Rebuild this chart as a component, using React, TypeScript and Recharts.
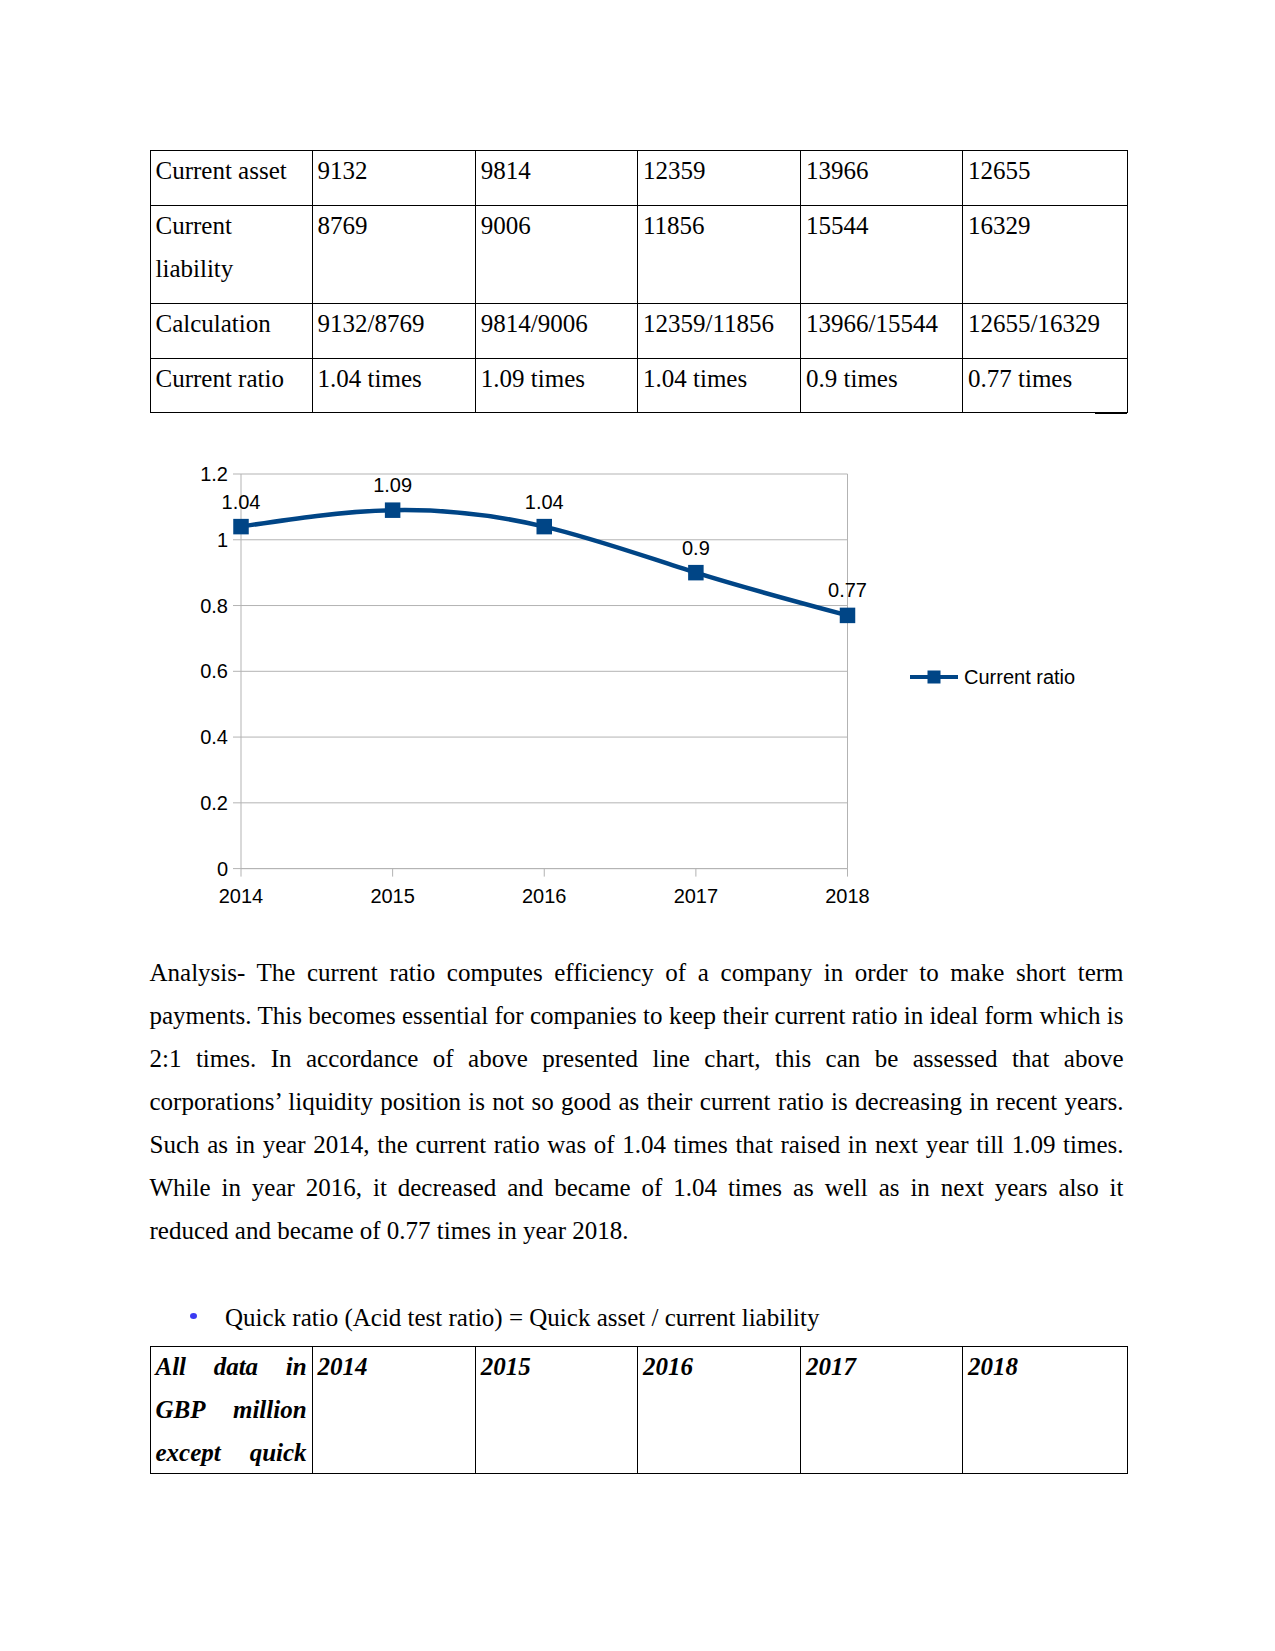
import React from 'react';
import { LineChart, Line, XAxis, YAxis, CartesianGrid, LabelList, Legend, ReferenceLine } from 'recharts';

const years = ['2014', '2015', '2016', '2017', '2018'];
const currentAsset = [9132, 9814, 12359, 13966, 12655];
const currentLiability = [8769, 9006, 11856, 15544, 16329];
const currentRatio = [1.04, 1.09, 1.04, 0.9, 0.77];
const yTicks = [0, 0.2, 0.4, 0.6, 0.8, 1, 1.2];
const seriesName = 'Current ratio';

const analysisLines = [
  'Analysis- The current ratio computes efficiency of a company in order to make short term',
  'payments. This becomes essential for companies to keep their current ratio in ideal form which is',
  '2:1 times. In accordance of above presented line chart, this can be assessed that above',
  'corporations\u2019 liquidity position is not so good as their current ratio is decreasing in recent years.',
  'Such as in year 2014, the current ratio was of 1.04 times that raised in next year till 1.09 times.',
  'While in year 2016, it decreased and became of 1.04 times as well as in next years also it',
  'reduced and became of 0.77 times in year 2018.',
];
const quickHeading = 'Quick ratio (Acid test ratio) = Quick asset / current liability';
const quickHeaderLines = ['All data in', 'GBP million', 'except quick'];

const chartData = years.map((y, i) => ({ year: y, ratio: currentRatio[i] }));

const SERIF = '"Liberation Serif", "Times New Roman", serif';
const SANS = '"Liberation Sans", Arial, sans-serif';
const BLUE = '#004586';
const GRID = '#b3b3b3';

const colX = [149.5, 311.6, 474.8, 637, 800, 962, 1126.5];
const t1Rows = [149.5, 205.3, 303.2, 358, 411.6];
const t2Rows = [1345.5, 1473];

function Cell(props: { x0: number; x1: number; y0: number; y1: number; children?: React.ReactNode; style?: React.CSSProperties }) {
  const { x0, x1, y0, y1, children, style } = props;
  return (
    <div
      style={{
        position: 'absolute',
        left: x0,
        top: y0,
        width: x1 - x0 + 1,
        height: y1 - y0 + 1,
        border: '1px solid #000',
        boxSizing: 'border-box',
        padding: '0 5px 0 5px',
        fontFamily: SERIF,
        fontSize: 25,
        lineHeight: '43px',
        color: '#000',
        overflow: 'hidden',
        ...style,
      }}
    >
      <div style={{ marginTop: -2 }}>{children}</div>
    </div>
  );
}

const SquareDot = (props: any) => {
  const { cx, cy, index } = props;
  return <rect key={`dot-${index}`} x={cx - 7.75} y={cy - 7.75} width={15.5} height={15.5} fill={BLUE} />;
};

const renderLegend = (props: any) => {
  const { payload } = props;
  return (
    <div style={{ display: 'flex', alignItems: 'center' }}>
      {(payload || []).map((p: any, i: number) => (
        <div key={`lg-${i}`} style={{ display: 'flex', alignItems: 'center' }}>
          <svg width={48} height={16}>
            <line x1={0} y1={8} x2={48} y2={8} stroke={p.color} strokeWidth={4} />
            <rect x={17.5} y={1.5} width={13} height={13} fill={p.color} />
          </svg>
          <span style={{ marginLeft: 6, fontSize: 20, fontFamily: SANS, color: '#000', lineHeight: '24px' }}>{p.value}</span>
        </div>
      ))}
    </div>
  );
};

export default function App() {
  const t1 = [
    ['Current asset', ...currentAsset.map(String)],
    ['Current\nliability', ...currentLiability.map(String)],
    ['Calculation', ...currentAsset.map((a, i) => `${a}/${currentLiability[i]}`)],
    ['Current ratio', ...currentRatio.map((r) => `${r} times`)],
  ];
  const centers = [973.5, 1016.5, 1059.5, 1102.5, 1145.5, 1188.5, 1231.5];
  return (
    <div style={{ position: 'absolute', left: 0, top: 0, width: 1275, height: 1651, background: '#fff', fontFamily: SERIF }}>
      {t1.map((row, ri) =>
        row.map((txt, ci) => (
          <Cell key={`t1-${ri}-${ci}`} x0={colX[ci]} x1={colX[ci + 1]} y0={t1Rows[ri]} y1={t1Rows[ri + 1]}>
            {txt.split('\n').map((l, k) => (
              <div key={k}>{l}</div>
            ))}
          </Cell>
        ))
      )}
      <div style={{ position: 'absolute', left: 1095, top: 411.5, width: 31.5, height: 2, background: '#000' }} />

      <div style={{ position: 'absolute', left: 0, top: 420 }}>
        <LineChart width={1275} height={500} data={chartData} margin={{ top: 54, right: 427.5, bottom: 21.4, left: 181 }}>
          <CartesianGrid vertical={false} stroke={GRID} strokeWidth={1} />
          <XAxis
            dataKey="year"
            interval={0}
            height={30}
            tickSize={8}
            tickMargin={12}
            axisLine={{ stroke: GRID }}
            tickLine={{ stroke: GRID }}
            tick={{ fill: '#000', fontSize: 20, fontFamily: SANS }}
          />
          <YAxis
            domain={[0, 1.2]}
            ticks={yTicks}
            width={60}
            tickSize={8}
            tickMargin={5}
            axisLine={{ stroke: GRID }}
            tickLine={{ stroke: GRID }}
            tick={{ fill: '#000', fontSize: 20, fontFamily: SANS }}
          />
          <ReferenceLine x="2018" stroke={GRID} strokeWidth={1} />
          <Legend
            layout="horizontal"
            align="center"
            verticalAlign="middle"
            content={renderLegend}
            wrapperStyle={{ left: 910, top: 245, width: 260 }}
          />
          <Line
            type="natural"
            dataKey="ratio"
            name={seriesName}
            stroke={BLUE}
            strokeWidth={4.5}
            dot={SquareDot}
            activeDot={false}
            isAnimationActive={false}
          >
            <LabelList dataKey="ratio" position="top" offset={18} fill="#000" fontSize={20} fontFamily={SANS} />
          </Line>
        </LineChart>
      </div>

      {analysisLines.map((l, i) => (
        <div
          key={`an-${i}`}
          style={{
            position: 'absolute',
            left: 149.5,
            top: centers[i] - 22.5,
            width: 974,
            height: 43,
            fontSize: 25,
            lineHeight: '43px',
            fontFamily: SERIF,
            color: '#000',
            textAlign: i === analysisLines.length - 1 ? 'left' : 'justify',
            textAlignLast: i === analysisLines.length - 1 ? 'left' : 'justify',
          }}
        >
          {l}
        </div>
      ))}

      <div style={{ position: 'absolute', left: 190, top: 1313, width: 7, height: 6, borderRadius: '50%', background: '#3a3af2' }} />
      <div style={{ position: 'absolute', left: 225, top: 1318 - 22.5, fontSize: 25, lineHeight: '43px', fontFamily: SERIF, color: '#000', whiteSpace: 'nowrap' }}>
        {quickHeading}
      </div>

      <Cell x0={colX[0]} x1={colX[1]} y0={t2Rows[0]} y1={t2Rows[1]} style={{ fontWeight: 'bold', fontStyle: 'italic' }}>
        {quickHeaderLines.map((l, k) => (
          <div key={k} style={{ textAlign: 'justify', textAlignLast: 'justify' }}>{l}</div>
        ))}
      </Cell>
      {years.map((y, i) => (
        <Cell key={`t2-${i}`} x0={colX[i + 1]} x1={colX[i + 2]} y0={t2Rows[0]} y1={t2Rows[1]} style={{ fontWeight: 'bold', fontStyle: 'italic' }}>
          {y}
        </Cell>
      ))}
    </div>
  );
}
